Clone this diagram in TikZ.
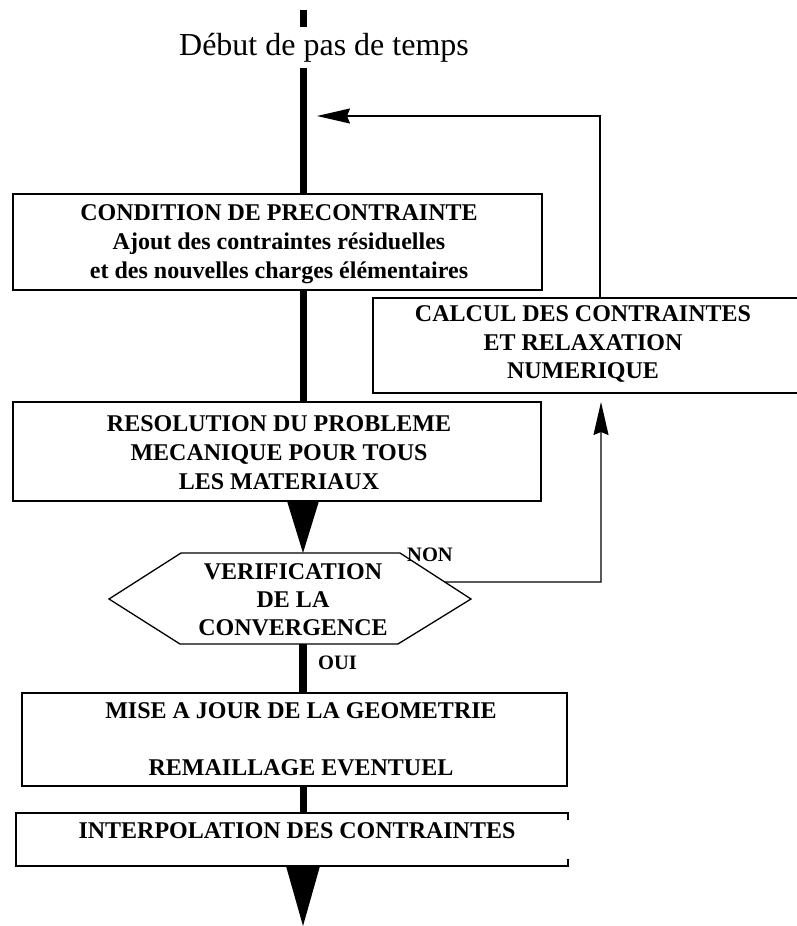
\documentclass[tikz,border=0pt]{standalone}
\usepackage{fontspec}
\setmainfont{Liberation Serif}
\usetikzlibrary{arrows.meta,calc}
\setlength\tabcolsep{0pt}
\renewcommand\arraystretch{1}
\begin{document}
\tikzset{
  box/.style={draw, line width=1.3pt, inner sep=0pt, outer sep=0pt},
  frame/.style={inner sep=0pt, outer sep=0pt},
  txt/.style={anchor=base, inner sep=0pt, outer sep=0pt},
  trunk/.style={line width=7pt},
  thinline/.style={line width=1.3pt},
  tipend/.style={-{Stealth[length=33pt,width=15pt,inset=3pt]}},
  boxtext/.style={txt, font={\fontsize{24}{29}\bfseries\selectfont}},
  smalltext/.style={txt, font={\fontsize{20.5}{24}\bfseries\selectfont}}
}
\begin{tikzpicture}[x=1pt,y=-1pt]
\useasboundingbox (0,0) rectangle (797,926);

% title
\node[txt, font={\fontsize{32}{38}\selectfont}] (title) at (324,55) {Début de pas de temps};

% boxes
\node[box, minimum width=529pt, minimum height=96pt] (cond) at (277.5,242) {};
\node[boxtext] (condt) at (279,220) {\begin{tabular}[t]{c}CONDITION DE PRECONTRAINTE\\ Ajout des contraintes résiduelles\\ et des nouvelles charges élémentaires\end{tabular}};

\node[frame, minimum width=424pt, minimum height=95pt] (calc) at (585,345.5) {};
\draw[thinline] (calc.north east) -- (calc.north west) -- (calc.south west) -- (calc.south east);
\node[txt, font={\fontsize{24}{28.5}\bfseries\selectfont}] (calct) at (583,321.5) {\begin{tabular}[t]{c}CALCUL DES CONTRAINTES\\ ET RELAXATION\\ NUMERIQUE\end{tabular}};

\node[box, minimum width=528pt, minimum height=99pt] (res) at (277,451.5) {};
\node[boxtext] (rest) at (279,431) {\begin{tabular}[t]{c}RESOLUTION DU PROBLEME\\ MECANIQUE POUR TOUS\\ LES MATERIAUX\end{tabular}};

% hexagon
\coordinate (hL) at (109,599);
\coordinate (hTL) at (181,553);
\coordinate (hTR) at (400,553);
\coordinate (hR) at (471,599);
\coordinate (hBR) at (398,644);
\coordinate (hBL) at (180,644);
\draw[thinline] (hL) -- (hTL) -- (hTR) -- (hR) -- (hBR) -- (hBL) -- cycle;
\node[txt, font={\fontsize{24}{28}\bfseries\selectfont}] (hext) at (293,579) {\begin{tabular}[t]{c}VERIFICATION\\ DE LA\\ CONVERGENCE\end{tabular}};

\node[box, minimum width=545pt, minimum height=93pt] (mise) at (294.5,739.5) {};
\node[txt, font={\fontsize{24}{28.5}\bfseries\selectfont}] (miset) at (301,718) {\begin{tabular}[t]{c}MISE A JOUR DE LA GEOMETRIE\\ \\ REMAILLAGE EVENTUEL\end{tabular}};

\node[frame, minimum width=552pt, minimum height=53pt] (interp) at (292,839.5) {};
\draw[thinline] ([yshift=-7pt]interp.north east) -- (interp.north east) -- (interp.north west) -- (interp.south west) -- (interp.south east) -- ([yshift=7pt]interp.south east);
\node[boxtext] (interpt) at (297,838) {INTERPOLATION DES CONTRAINTES};

% labels
\node[smalltext] (non) at (430,561) {NON};
\node[smalltext] (oui) at (337.5,669) {OUI};

% main flow line
\coordinate (s0) at (303,10);
\coordinate (s1) at (303,27);
\coordinate (s2) at (303,68);
\draw[trunk] (s0) -- (s1);
\draw[trunk] (s2) -- (s2 |- cond.north);
\draw[trunk] (cond.south -| s2) -- (s2 |- res.north);
\fill ($(res.south -| s2)+(-16,0)$) -- ($(res.south -| s2)+(16,0)$) -- (s2 |- hTL) -- cycle;
\draw[line width=8pt] (s2 |- hBL) -- (s2 |- mise.north);
\draw[trunk] (mise.south -| s2) -- (s2 |- interp.north);
\coordinate (endtip) at (303,926);
\fill ($(interp.south -| s2)+(-17,0)$) -- ($(interp.south -| s2)+(17,0)$) -- (endtip) -- cycle;

% loop back
\coordinate (n0) at ($(hTR)!0.63!(hR)$);
\coordinate (n1) at (601,582);
\coordinate (uptip) at ($(calc.south -| n1)+(0,9)$);
\draw[thinline, tipend] (n0) -- (n1) -- (uptip);
\coordinate (fb) at (600,116);
\coordinate (fbtip) at (317,116);
\draw[thinline, tipend] (calc.north -| fb) -- (fb) -- (fbtip);
\end{tikzpicture}
\end{document}
